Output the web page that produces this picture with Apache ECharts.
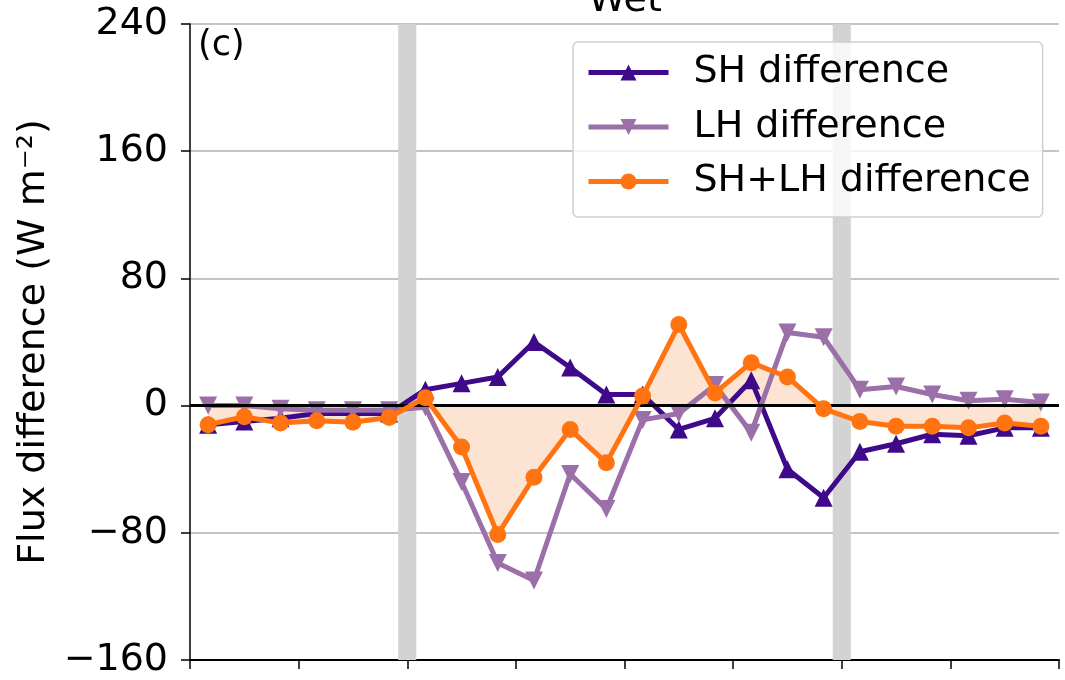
<!DOCTYPE html>
<html>
<head>
<meta charset="utf-8">
<script src="https://cdn.jsdelivr.net/npm/echarts@6/dist/echarts.min.js"></script>
<style>
html,body{margin:0;padding:0;background:#fff;}
#chart{width:1065px;height:680px;}
</style>
</head>
<body>
<div id="chart"></div>
<script>
// ---- data ----
const hours = [0.5,1.5,2.5,3.5,4.5,5.5,6.5,7.5,8.5,9.5,10.5,11.5,12.5,13.5,14.5,15.5,16.5,17.5,18.5,19.5,20.5,21.5,22.5,23.5];
const shDiff = [-12,-10,-8,-5,-5,-5,10,14,18,40,24,7,7,-15,-8,16,-40,-58,-29,-24,-18,-19,-14,-14];
const lhDiff = [0,0,-2,-3,-3,-3,-1,-48,-99,-110,-43,-65,-9,-5,13,-17,46,43,10,12,7,3,4,2];
const sumDiff = [-12,-7,-11,-9.5,-10.5,-7.5,5,-26,-81,-45,-15,-36,6,51,8,27,18,-2,-10,-13,-13,-14,-11,-13];
const yTicks = [-160,-80,0,80,160,240];
const xTicks = [0,3,6,9,12,15,18,21,24];
const bands = [[5.75,6.25],[17.75,18.25]];
const seriesNames = ['SH difference','LH difference','SH+LH difference'];
const panelTitle = 'Wet';
const panelLabel = '(c)';
const yAxisTitle = 'Flux difference (W m\u207B\u00B2)';

const FONT = 'DejaVu Sans';
const FS = 38;
const C_SH = '#3f0a8a', C_LH = '#9b6fa8', C_SUM = '#ff7410', C_FILL = '#fde3d1';

function pairs(ys){ return hours.map((h,i)=>[h, ys[i]]); }

const chart = echarts.init(document.getElementById('chart'), null, {renderer:'canvas'});
chart.setOption({
  animation:false,
  backgroundColor:'#fff',
  grid:{left:190, right:6, top:24, bottom:20, containLabel:false},
  xAxis:{
    type:'value', min:xTicks[0], max:xTicks[xTicks.length-1], interval:3,
    axisLine:{show:true, onZero:false, lineStyle:{color:'#000', width:2}},
    axisTick:{show:true, inside:false, length:9, lineStyle:{color:'#000', width:1.5}},
    axisLabel:{show:false},
    splitLine:{show:false}
  },
  yAxis:{
    type:'value', min:yTicks[0], max:yTicks[yTicks.length-1], interval:80,
    axisLine:{show:true, onZero:false, lineStyle:{color:'#000', width:1.5}},
    axisTick:{show:true, inside:false, length:9, lineStyle:{color:'#000', width:1.5}},
    axisLabel:{fontFamily:FONT, fontSize:FS, color:'#000', margin:22,
      formatter:v=>String(v).replace('-','\u2212')},
    splitLine:{show:true, lineStyle:{color:'#b0b0b0', width:1.5}},
    name:yAxisTitle, nameLocation:'middle', nameRotate:90, nameGap:130,
    nameTextStyle:{fontFamily:FONT, fontSize:FS, color:'#000'}
  },
  legend:{
    orient:'vertical', left:573, top:42,
    data:seriesNames,
    itemWidth:80, itemHeight:20, itemGap:15.5,
    padding:[11,12,16,13],
    backgroundColor:'rgba(255,255,255,0.8)',
    borderColor:'#d0d0d0', borderWidth:1.5, borderRadius:5,
    lineStyle:{width:5},
    textStyle:{fontFamily:FONT, fontSize:FS, color:'#000', padding:[0,0,0,20], lineHeight:39}
  },
  graphic:[
    {type:'text', z:100, style:{text:panelTitle, x:625, y:1, fontFamily:FONT, fontSize:FS, fill:'#000', textAlign:'center', textVerticalAlign:'middle'}},
    {type:'text', z:100, style:{text:panelLabel, x:198, y:46, fontFamily:FONT, fontSize:35, fill:'#000', textAlign:'left', textVerticalAlign:'middle'}}
  ],
  series:[
    {
      name:'bands', type:'line', data:[], silent:true, z:1,
      markArea:{silent:true, itemStyle:{color:'#d3d3d3'},
        data:bands.map(b=>[{xAxis:b[0]},{xAxis:b[1]}])}
    },
    {
      name:'fill', type:'line', data:pairs(sumDiff), silent:true, z:2,
      symbol:'none', lineStyle:{width:0, opacity:0},
      areaStyle:{color:C_FILL, opacity:1, origin:0},
      markLine:{silent:true, symbol:'none', label:{show:false},
        lineStyle:{color:'#000', width:3, type:'solid'}, data:[{yAxis:0}]}
    },
    {
      name:seriesNames[0], type:'line', data:pairs(shDiff), z:3,
      symbol:'triangle', symbolSize:18,
      lineStyle:{color:C_SH, width:5}, itemStyle:{color:C_SH}
    },
    {
      name:seriesNames[1], type:'line', data:pairs(lhDiff), z:4,
      symbol:'triangle', symbolRotate:180, symbolSize:18,
      lineStyle:{color:C_LH, width:5}, itemStyle:{color:C_LH}
    },
    {
      name:seriesNames[2], type:'line', data:pairs(sumDiff), z:5,
      symbol:'circle', symbolSize:17,
      lineStyle:{color:C_SUM, width:5}, itemStyle:{color:C_SUM}
    }
  ]
});
</script>
</body>
</html>
